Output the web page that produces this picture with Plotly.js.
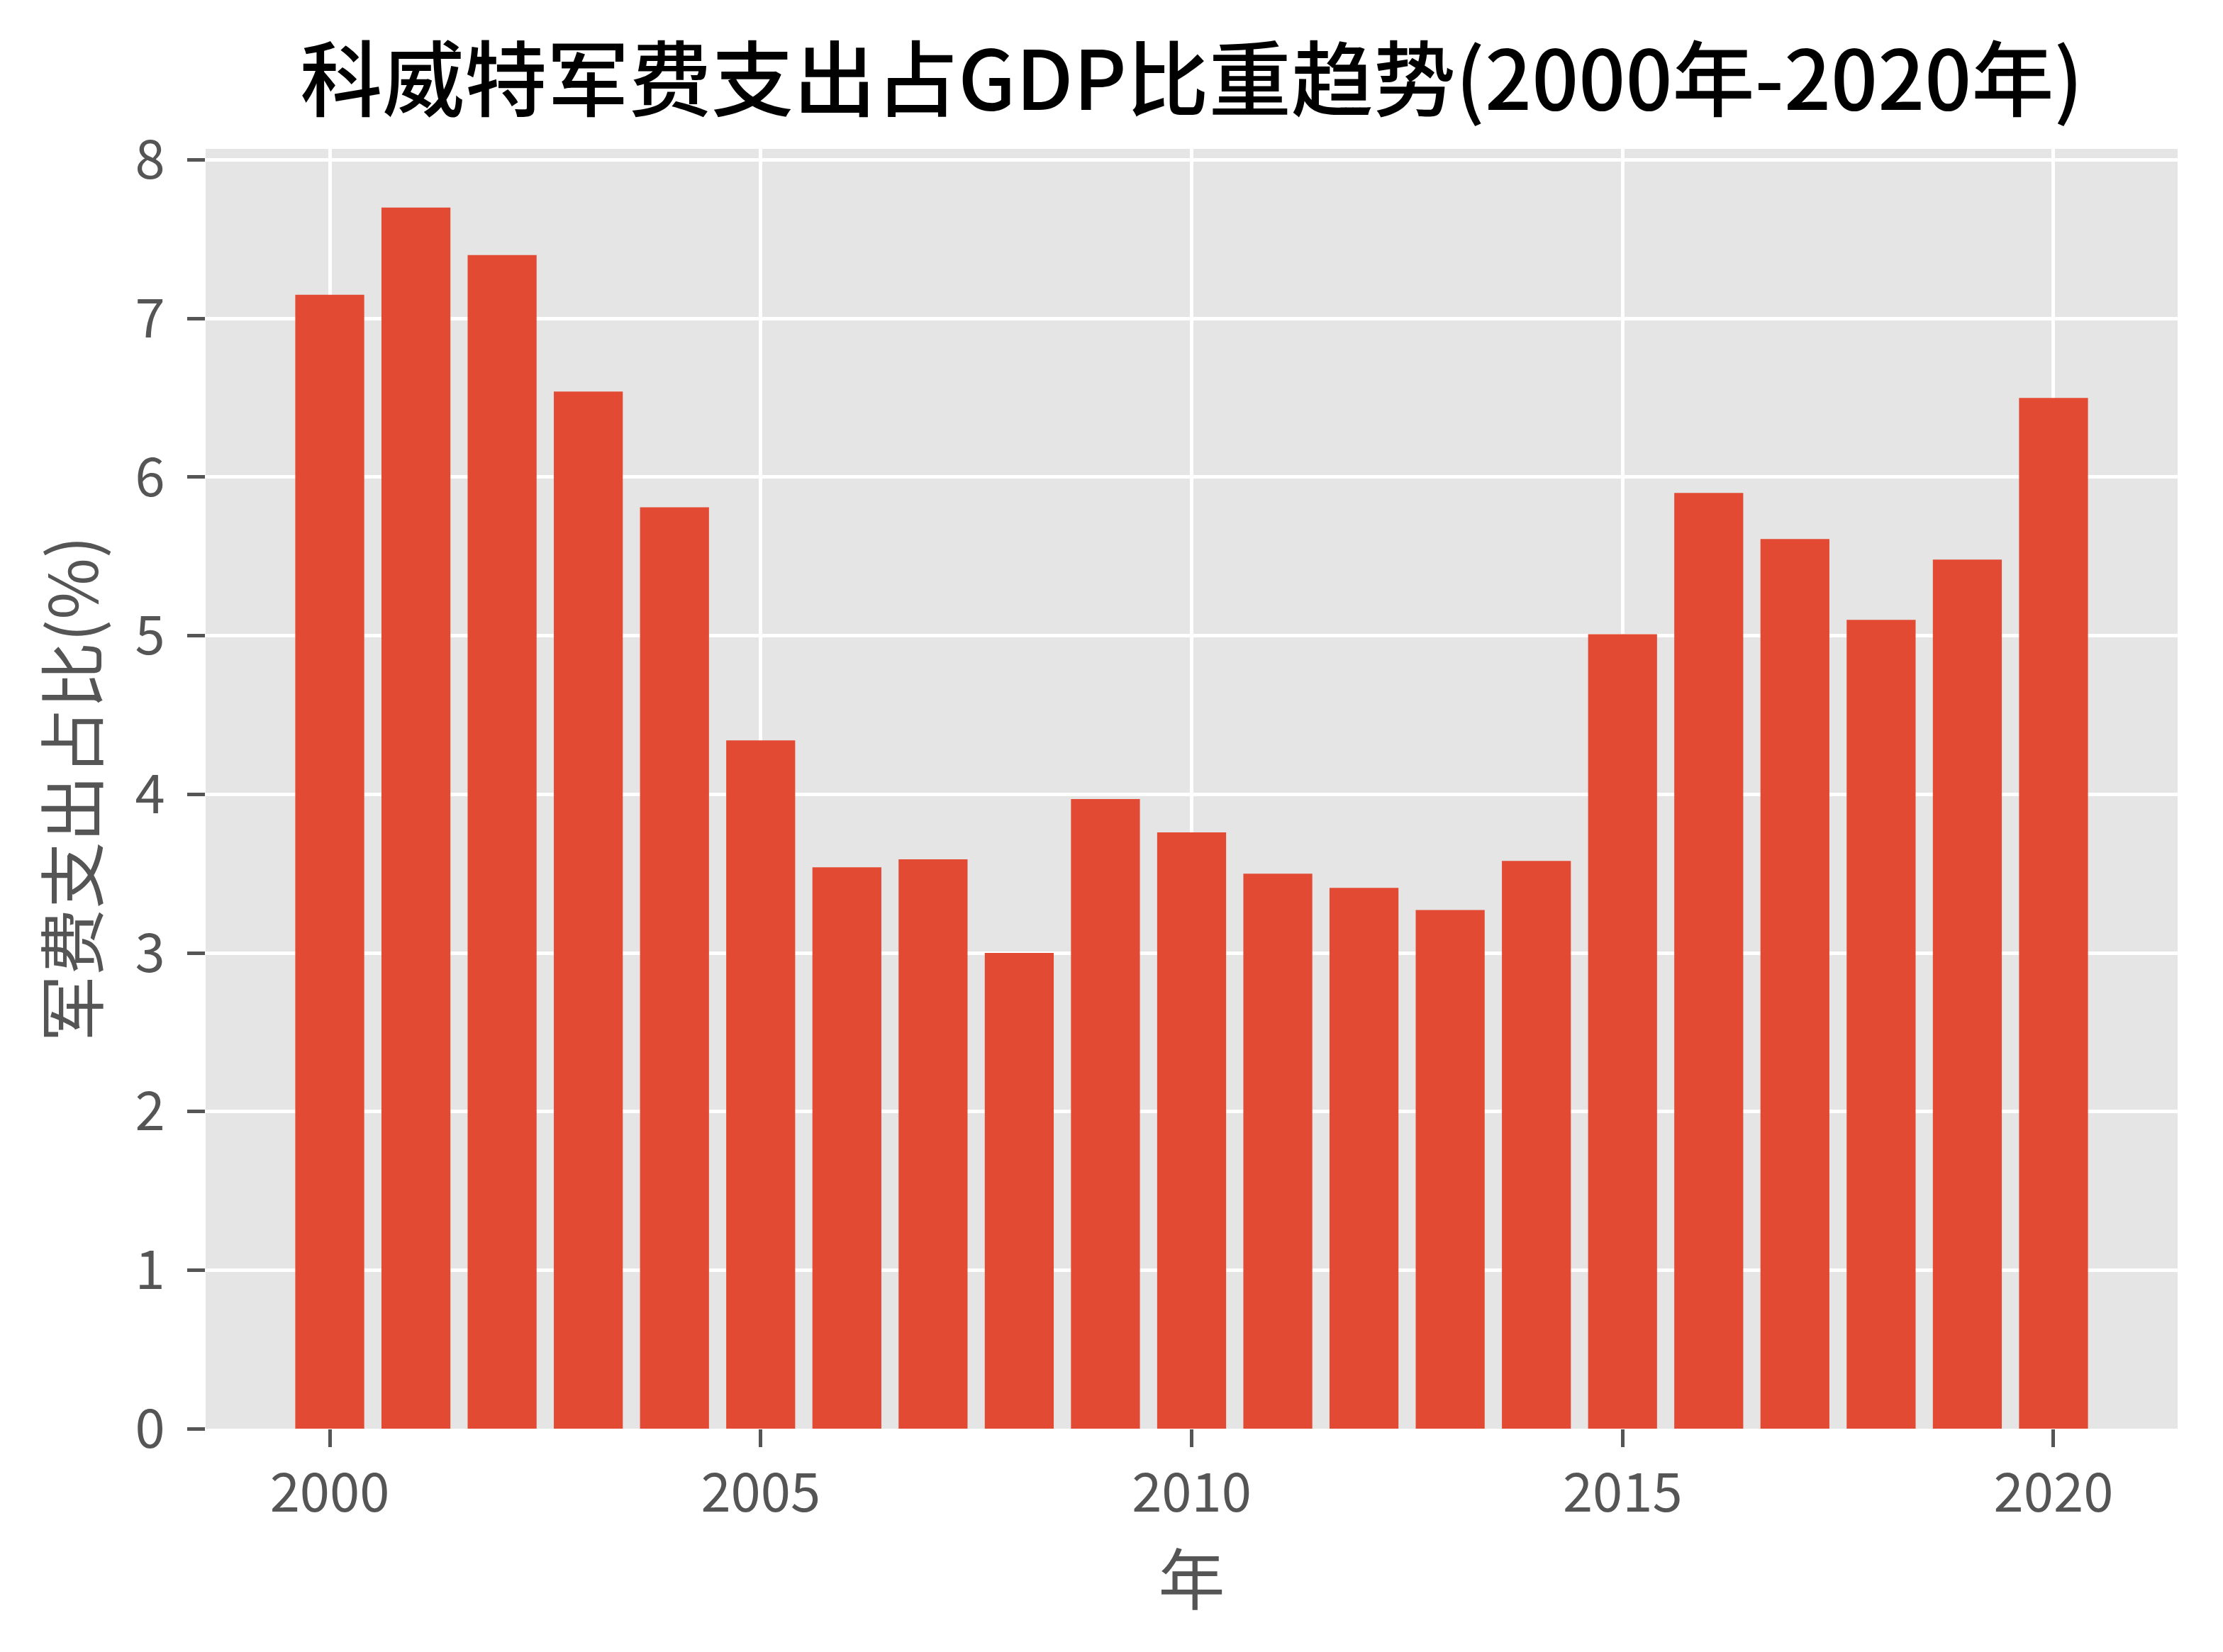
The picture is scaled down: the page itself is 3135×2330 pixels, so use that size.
<!DOCTYPE html>
<html>
<head>
<meta charset="utf-8">
<script src="https://cdn.plot.ly/plotly-3.0.1.min.js"></script>
<style>html,body{margin:0;padding:0;background:#fff;}</style>
</head>
<body>
<div id="chart" style="width:3135px;height:2330px;"></div>
<script>
const years = [2000, 2001, 2002, 2003, 2004, 2005, 2006, 2007, 2008, 2009, 2010,
               2011, 2012, 2013, 2014, 2015, 2016, 2017, 2018, 2019, 2020];
const milexShare = [7.15, 7.70, 7.40, 6.54, 5.81, 4.34, 3.54, 3.59, 3.00, 3.97, 3.76,
                    3.50, 3.41, 3.27, 3.58, 5.01, 5.90, 5.61, 5.10, 5.48, 6.50];
const xTicks = [2000, 2005, 2010, 2015, 2020];
const yTicks = [0, 1, 2, 3, 4, 5, 6, 7, 8];
const titleText = '科威特军费支出占GDP比重趋势(2000年-2020年)';
const xTitle = '年';
const yTitle = '军费支出占比(%)';

const FONT = '"Noto Sans CJK SC", "Noto Sans", sans-serif';

const data = [{
  type: 'bar',
  x: years,
  y: milexShare,
  width: 0.8,
  marker: {color: '#E24A33', line: {width: 0}},
  hoverinfo: 'x+y'
}];

const layout = {
  width: 3135,
  height: 2330,
  paper_bgcolor: '#ffffff',
  plot_bgcolor: '#E5E5E5',
  margin: {l: 290, r: 64, t: 210, b: 315, pad: 0},
  showlegend: false,
  font: {family: FONT, color: '#555555'},
  title: {
    text: titleText,
    font: {family: FONT, size: 116, color: '#000000', weight: 500},
    x: 0.5, xref: 'paper', xanchor: 'center',
    y: 1 - 114/2330, yref: 'container', yanchor: 'middle'
  },
  xaxis: {
    range: [1998.56, 2021.44],
    tickmode: 'array',
    tickvals: xTicks,
    ticktext: xTicks.map(String),
    ticks: 'outside',
    ticklen: 25,
    tickwidth: 5,
    tickcolor: '#555555',
    tickfont: {family: FONT, size: 76, color: '#555555'},
    showgrid: true,
    gridcolor: '#ffffff',
    gridwidth: 5,
    zeroline: false,
    showline: false,
    automargin: false,
    title: {text: xTitle, font: {family: FONT, size: 94, color: '#555555'}, standoff: 20}
  },
  yaxis: {
    range: [0, 8.07],
    tickmode: 'array',
    tickvals: yTicks,
    ticktext: yTicks.map(String),
    ticks: 'outside',
    ticklen: 25,
    tickwidth: 5,
    tickcolor: '#555555',
    tickfont: {family: FONT, size: 76, color: '#555555'},
    ticklabelstandoff: 16,
    showgrid: true,
    gridcolor: '#ffffff',
    gridwidth: 5,
    zeroline: false,
    showline: false,
    automargin: false,
    title: {text: yTitle, font: {family: FONT, size: 94, color: '#555555'}, standoff: 20}
  }
};

Plotly.newPlot('chart', data, layout, {displayModeBar: false, staticPlot: true});
</script>
</body>
</html>
